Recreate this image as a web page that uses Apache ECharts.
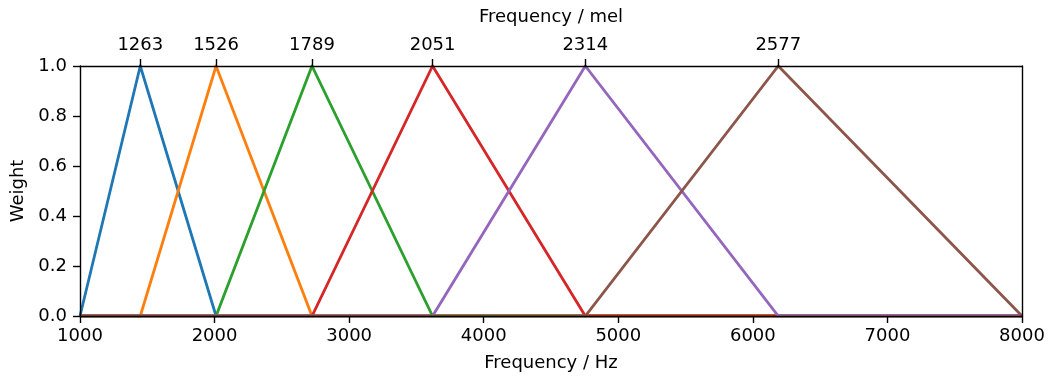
<!DOCTYPE html>
<html>
<head>
<meta charset="utf-8">
<script src="https://cdn.jsdelivr.net/npm/echarts@6/dist/echarts.min.js"></script>
<style>
  html, body { margin: 0; padding: 0; background: #fff; }
  #chart { width: 1053px; height: 377px; }
</style>
</head>
<body>
<div id="chart"></div>
<script>
// Triangular mel filterbank: band edges in Hz (evenly spaced on the mel scale)
const edgesHz = [1000, 1448, 2011, 2724, 3620, 4755, 6189, 8000];
// Filter centres expressed in mel, shown on the top axis
const melLabels = ['1263', '1526', '1789', '2051', '2314', '2577'];
// Filter centres in Hz (where the mel labels sit)
const centresHz = [1448, 2011, 2724, 3620, 4755, 6189];
const colors = ['#1f77b4', '#ff7f0e', '#2ca02c', '#d62728', '#9467bd', '#8c564b'];
const hzTicks = [1000, 2000, 3000, 4000, 5000, 6000, 7000, 8000];

const FONT = 'DejaVu Sans';
const FS = 18;

const series = [];
for (let i = 0; i < edgesHz.length - 2; i++) {
  const lo = edgesHz[i], mid = edgesHz[i + 1], hi = edgesHz[i + 2];
  const pts = [];
  if (lo > edgesHz[0]) pts.push([edgesHz[0], 0]);
  pts.push([lo, 0], [mid, 1], [hi, 0]);
  if (hi < edgesHz[edgesHz.length - 1]) pts.push([edgesHz[edgesHz.length - 1], 0]);
  series.push({
    type: 'line',
    data: pts,
    symbol: 'none',
    z: 2,
    lineStyle: { color: colors[i], width: 2.8, join: 'miter' },
    itemStyle: { color: colors[i] }
  });
}

const axisLineStyle = { onZero: false, lineStyle: { color: '#000', width: 1.4 } };
const tickStyle = { inside: false, length: 7, lineStyle: { color: '#000', width: 1.4 } };
const labelStyle = { color: '#000', fontFamily: FONT, fontSize: FS };

const chart = echarts.init(document.getElementById('chart'), null, { renderer: 'canvas' });
chart.setOption({
  animation: false,
  backgroundColor: '#fff',
  grid: {
    left: 80, right: 31, top: 66, bottom: 61,
    outerBoundsMode: 'none',
    show: false
  },
  xAxis: [
    {
      type: 'value', position: 'bottom', z: 5,
      min: hzTicks[0], max: hzTicks[hzTicks.length - 1], interval: 1000,
      name: 'Frequency / Hz', nameLocation: 'middle', nameGap: 38,
      nameTextStyle: labelStyle,
      axisLine: axisLineStyle, axisTick: tickStyle,
      axisLabel: Object.assign({
        margin: 11, showMinLabel: true, showMaxLabel: true,
        formatter: v => String(v)
      }, labelStyle),
      splitLine: { show: false }
    },
    {
      type: 'value', position: 'top', z: 5,
      min: hzTicks[0], max: hzTicks[hzTicks.length - 1],
      name: 'Frequency / mel', nameLocation: 'middle', nameGap: 40,
      nameTextStyle: labelStyle,
      axisLine: axisLineStyle,
      axisTick: Object.assign({ customValues: centresHz }, tickStyle),
      axisLabel: Object.assign({
        margin: 12,
        customValues: centresHz,
        formatter: v => {
          const k = centresHz.indexOf(v);
          return k >= 0 ? melLabels[k] : '';
        }
      }, labelStyle),
      splitLine: { show: false }
    }
  ],
  yAxis: [
    {
      type: 'value', position: 'left', z: 5,
      min: 0, max: 1, interval: 0.2,
      name: 'Weight', nameLocation: 'middle', nameGap: 51, nameRotate: 90,
      nameTextStyle: labelStyle,
      axisLine: axisLineStyle, axisTick: tickStyle,
      axisLabel: Object.assign({ margin: 13, formatter: v => v.toFixed(1) }, labelStyle),
      splitLine: { show: false }
    },
    {
      type: 'value', position: 'right', z: 5,
      min: 0, max: 1, interval: 0.2,
      axisLine: Object.assign({ show: true }, axisLineStyle),
      axisTick: { show: false },
      axisLabel: { show: false },
      splitLine: { show: false }
    }
  ],
  series: series
});
</script>
</body>
</html>
